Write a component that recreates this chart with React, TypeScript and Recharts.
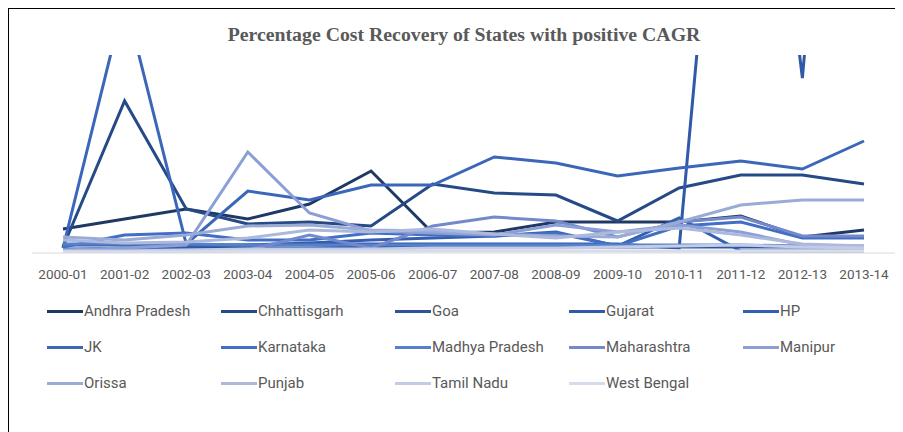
import { LineChart, Line, XAxis, YAxis } from "recharts";

const years = [
  "2000-01", "2001-02", "2002-03", "2003-04", "2004-05", "2005-06", "2006-07",
  "2007-08", "2008-09", "2009-10", "2010-11", "2011-12", "2012-13", "2013-14",
];

// values (the axis has no labels, so the units are relative)
const andhraPradesh = [24, 34, 44, 34, 49, 82, 20, 21, 31, 31, 31, 37, 16, 23];
const chhattisgarh = [6, 152, 44, 29, 31, 27, 69, 60, 58, 32, 65, 78, 78, 69];
const goa = [4, 4, 5, 5, 5, 6, 6, 6, 6, 6, 6, 6, 6, 6];
const gujarat = [8, 8, 8, 8, 9, 9, 9, 9, 9, 9, 5, 680, 175, 880];
const hp = [3, 5, 7, 8, 10, 13, 15, 17, 21, 7, 35, 2, 2, 2];
const jk = [5, 255, 9, 62, 53, 68, 68, 96, 90, 77, 85, 92, 84, 112];
const karnataka = [6, 18, 20, 13, 13, 20, 18, 17, 20, 7, 27, 31, 15, 15];
const madhyaPradesh = [9, 9, 9, 8, 8, 8, 8, 8, 8, 8, 8, 8, 7, 7];
const maharashtra = [3, 3, 3, 3, 18, 5, 27, 36, 32, 16, 31, 36, 17, 17];
const manipur = [3, 5, 8, 101, 40, 22, 20, 18, 28, 21, 28, 21, 8, 5];
const orissa = [16, 13, 18, 27, 28, 23, 22, 19, 17, 16, 31, 48, 53, 53];
const punjab = [13, 10, 11, 15, 23, 21, 24, 19, 15, 21, 25, 18, 9, 7];
const tamilNadu = [2, 2, 3, 4, 4, 4, 5, 5, 5, 6, 7, 8, 6, 5];
const westBengal = [1, 1, 1, 2, 2, 2, 2, 2, 2, 2, 2, 2, 2, 2];

const SERIES = [
  { name: "Andhra Pradesh", values: andhraPradesh, color: "#203864" },
  { name: "Chhattisgarh", values: chhattisgarh, color: "#264A86" },
  { name: "Goa", values: goa, color: "#2C5499" },
  { name: "Gujarat", values: gujarat, color: "#3059A8" },
  { name: "HP", values: hp, color: "#345FB0" },
  { name: "JK", values: jk, color: "#3B66BA" },
  { name: "Karnataka", values: karnataka, color: "#426FC3" },
  { name: "Madhya Pradesh", values: madhyaPradesh, color: "#5580CC" },
  { name: "Maharashtra", values: maharashtra, color: "#7489CB" },
  { name: "Manipur", values: manipur, color: "#8B9FD6" },
  { name: "Orissa", values: orissa, color: "#9AABD5" },
  { name: "Punjab", values: punjab, color: "#ADB9DC" },
  { name: "Tamil Nadu", values: tamilNadu, color: "#C4CCE5" },
  { name: "West Bengal", values: westBengal, color: "#D6DBEE" },
];

const data = years.map((year, i) => {
  const row: Record<string, string | number> = { year };
  SERIES.forEach((s) => (row[s.name] = s.values[i]));
  return row;
});

const TEXT = "#595959";

export default function App() {
  return (
    <div
      style={{
        position: "relative",
        width: 894,
        height: 423,
        borderTop: "1px solid #000",
        borderLeft: "1px solid #000",
        background: "#fff",
        overflow: "hidden",
      }}
    >
      <div
        style={{
          position: "absolute",
          top: 14,
          left: 0,
          width: 910,
          textAlign: "center",
          fontFamily: "'Liberation Serif', serif",
          fontWeight: "bold",
          fontSize: 19.8,
          color: TEXT,
        }}
      >
        Percentage Cost Recovery of States with positive CAGR
      </div>
      <LineChart
        width={894}
        height={423}
        data={data}
        margin={{ top: 46, right: 8, left: 23, bottom: 149 }}
      >
        <XAxis
          dataKey="year"
          height={30}
          padding={{ left: 31, right: 31 }}
          axisLine={{ stroke: "#D9D9D9", strokeWidth: 1 }}
          tickLine={false}
          tickMargin={10}
          interval={0}
          tick={{ fill: TEXT, fontSize: 13.5, fontFamily: "Roboto, sans-serif" }}
        />
        <YAxis hide domain={[0, 198]} allowDataOverflow />
        {SERIES.map((s) => (
          <Line
            key={s.name}
            type="linear"
            dataKey={s.name}
            stroke={s.color}
            strokeWidth={3}
            dot={false}
            isAnimationActive={false}
          />
        ))}
      </LineChart>
      <div
        style={{
          position: "absolute",
          left: 38,
          top: 292,
          display: "grid",
          gridTemplateColumns: "repeat(5, 174px)",
          rowGap: 16,
          fontFamily: "Roboto, sans-serif",
          fontSize: 15,
          color: TEXT,
        }}
      >
        {SERIES.map((s) => (
          <div key={s.name} style={{ display: "flex", alignItems: "center", height: 20 }}>
            <span
              style={{
                display: "inline-block",
                width: 36,
                height: 3,
                background: s.color,
                marginRight: 1,
              }}
            />
            {s.name}
          </div>
        ))}
      </div>
    </div>
  );
}
